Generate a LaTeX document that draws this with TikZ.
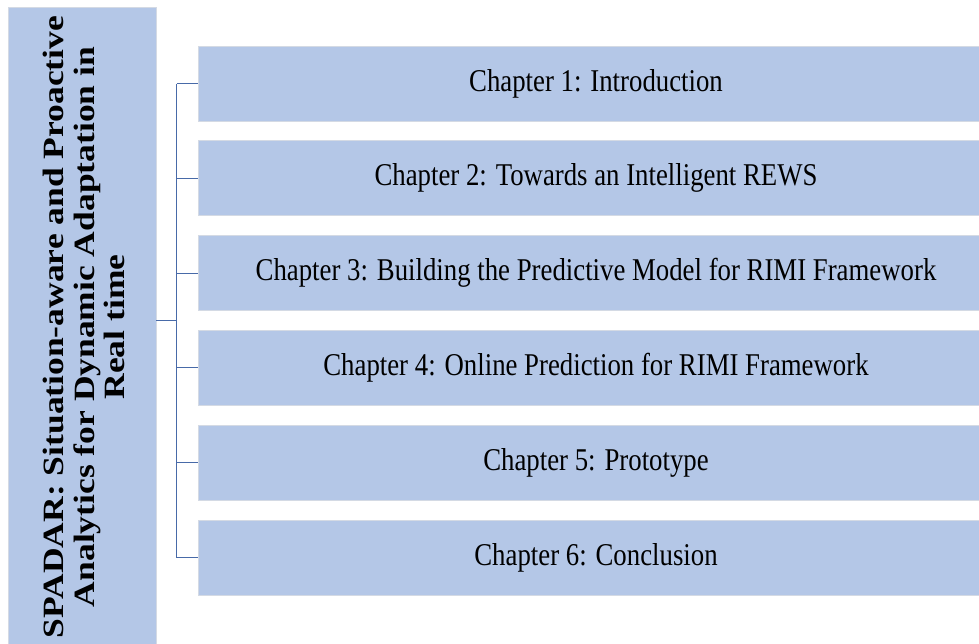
\documentclass[tikz,border=0pt]{standalone}
\usepackage{fontspec}
\setmainfont{Liberation Serif}
\usetikzlibrary{positioning,calc}
\definecolor{chapfill}{RGB}{180,199,231}
\definecolor{chapedge}{RGB}{212,218,228}
\definecolor{linkcol}{RGB}{72,106,168}

\begin{document}
\begin{tikzpicture}[x=1pt, y=-1pt, node distance=19pt,
   chap/.style={fill=chapfill, draw=chapedge, line width=0.8pt, inner sep=0pt,
     minimum width=796pt, minimum height=75pt,
     font=\fontsize{31.7}{36}\selectfont},
   thesis/.style={fill=chapfill, draw=chapedge, line width=0.8pt, inner sep=0pt,
     minimum width=148pt, minimum height=640pt},
   link/.style={draw=linkcol, line width=1.1pt}]
  \useasboundingbox (0,0) rectangle (979,643);
  \clip (0,0) rectangle (979,643);

  % thesis title, set upright
  \node[thesis] (title) at (82,327) {\hspace*{12pt}\rotatebox{90}{\scalebox{1}[0.83]{%
    \fontsize{35.5}{37}\selectfont\bfseries
    \begin{tabular}{@{}c@{}}
      SPADAR: Situation-aware and Proactive\\
      Analytics for Dynamic Adaptation in\\
      Real time
    \end{tabular}}}};

  % chapters
  \node[chap] (ch1) at (596,83.5) {\scalebox{0.845}[1]{Chapter 1: Introduction}};
  \node[chap, below=of ch1] (ch2) {\scalebox{0.845}[1]{Chapter 2: Towards an Intelligent REWS}};
  \node[chap, below=of ch2] (ch3) {\scalebox{0.845}[1]{Chapter 3: Building the Predictive Model for RIMI Framework}};
  \node[chap, below=of ch3] (ch4) {\scalebox{0.845}[1]{Chapter 4: Online Prediction for RIMI Framework}};
  \node[chap, below=of ch4] (ch5) {\scalebox{0.845}[1]{Chapter 5: Prototype}};
  \node[chap, below=of ch5] (ch6) {\scalebox{0.845}[1]{Chapter 6: Conclusion}};

  % bracket
  \coordinate (top) at ($(ch1.west)+(-21,0)$);
  \coordinate (bot) at ($(ch6.west)+(-21,0)$);
  \coordinate (mid) at ($(top)!0.5!(bot)$);
  \draw[link] (top) -- (bot);
  \draw[link] (title.east |- mid) -- (mid);
  \draw[link] (ch1.west) -- (ch1.west -| top);
  \draw[link] (ch2.west) -- (ch2.west -| top);
  \draw[link] (ch3.west) -- (ch3.west -| top);
  \draw[link] (ch4.west) -- (ch4.west -| top);
  \draw[link] (ch5.west) -- (ch5.west -| top);
  \draw[link] (ch6.west) -- (ch6.west -| top);
\end{tikzpicture}
\end{document}
